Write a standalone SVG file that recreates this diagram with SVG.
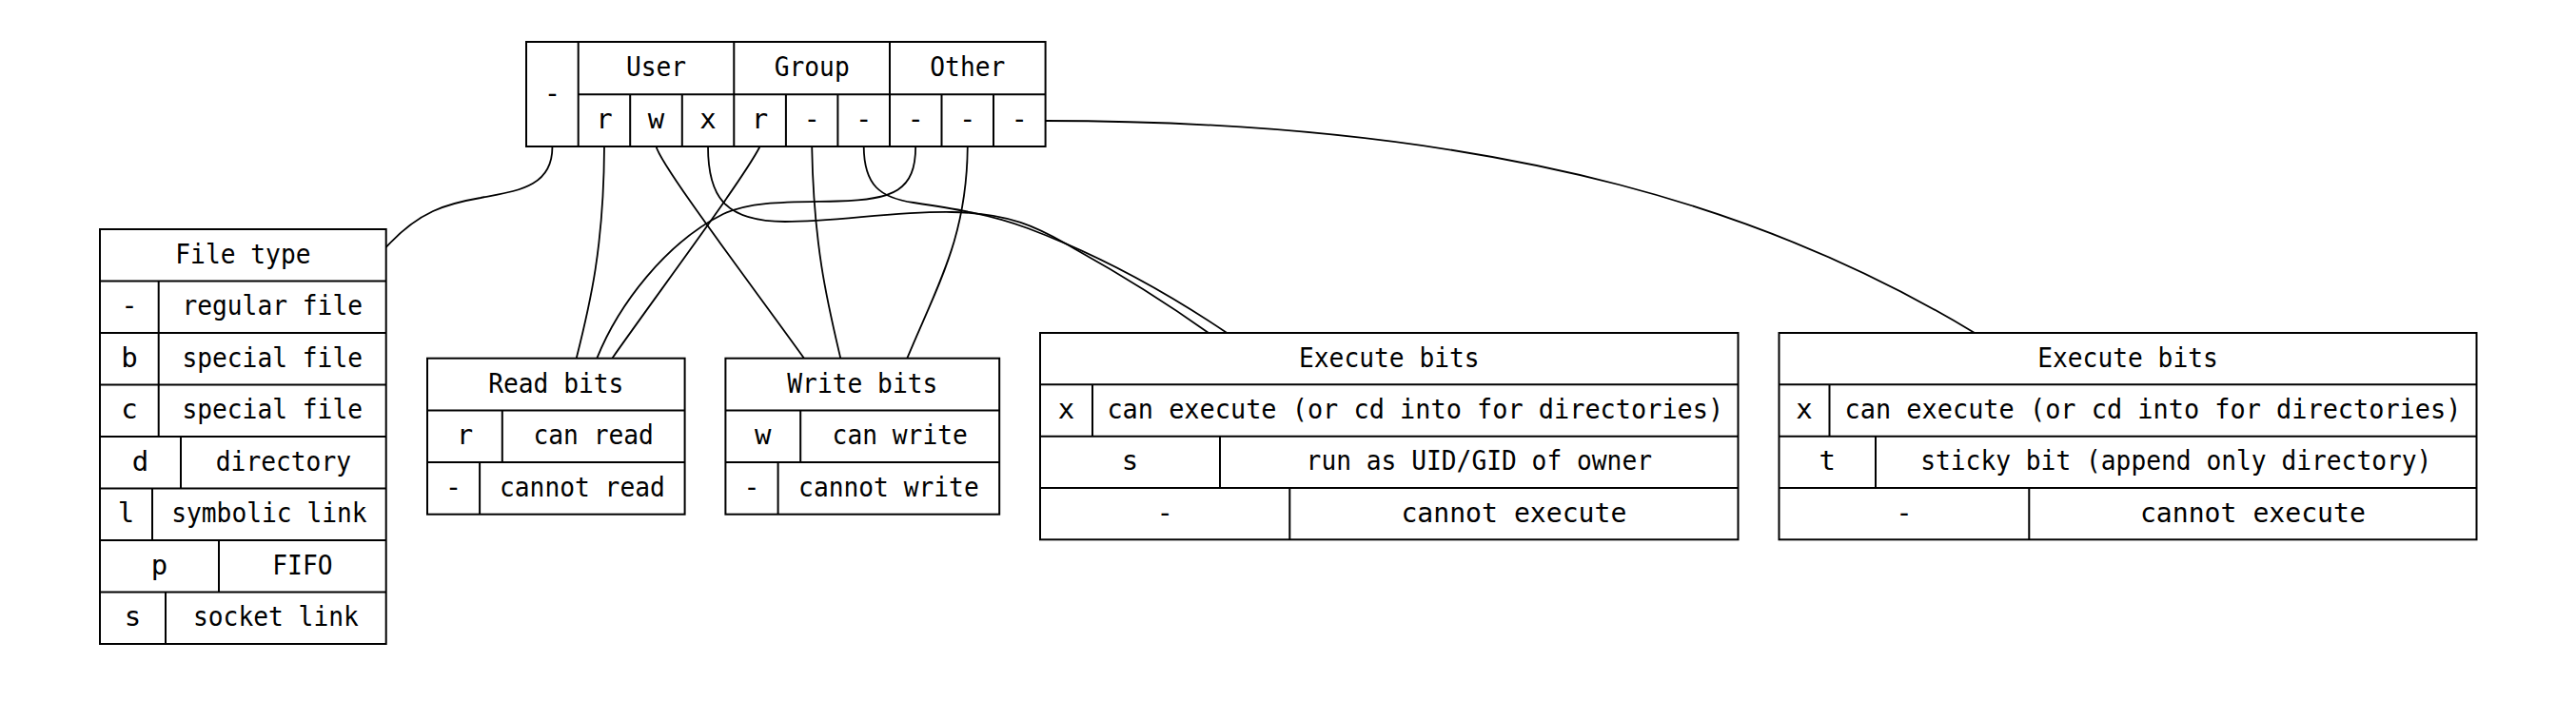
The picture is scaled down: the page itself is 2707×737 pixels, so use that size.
<svg xmlns="http://www.w3.org/2000/svg" width="2707" height="737" viewBox="0 0 2707 737">
<style>
.bg{fill:#ffffff}
.box{fill:#ffffff;stroke:#000000;stroke-width:2}
.ln{stroke:#000000;stroke-width:2;fill:none}
.t{font-family:"DejaVu Sans Mono","Liberation Mono",monospace;font-size:29px;fill:#000000;text-anchor:middle}
.edge{fill:none;stroke:#000000;stroke-width:1.8}
</style>
<rect class="bg" x="0" y="0" width="2707" height="737"/>

<g id="connectors">
<path class="edge" d="M580.4,154 C581,198 540,201 505,208 C470,214 440,222 405.7,260"/>
<path class="edge" d="M635,154 C634.5,260 620,320 605.7,376.7"/>
<path class="edge" d="M689.5,154 C695,175 790,300 845,376.7"/>
<path class="edge" d="M744,154 C744,205 760,233 825,233 C880,233 940,222 1000,223 C1060,224 1090,238 1130,262 C1175,287 1225,318 1270,350"/>
<path class="edge" d="M907.7,154 C908,195 925,208 960,213 C1000,219 1040,225 1080,240 C1160,270 1230,310 1289.3,350"/>
<path class="edge" d="M798.6,154 C780,190 690,310 643.3,376.7"/>
<path class="edge" d="M853.2,154 C855,260 870,320 883.3,376.7"/>
<path class="edge" d="M962.2,154 C962,200 940,210 880,211.5 C830,212.5 790,211 760,225 C700,255 650,320 627.3,376.7"/>
<path class="edge" d="M1016.8,154 C1016,250 985,300 953.3,376.7"/>
<path class="edge" d="M1098.6,127 C1600,127 1880,232 2075,350"/>
</g>

<g id="perms">
<rect class="box" x="553" y="44" width="545.6" height="110"/>
<path class="ln" d="M607.7,44 V154 M607.7,99.3 H1098.6 M771.3,44 V154 M935,44 V154 M662.2,99.3 V154 M716.8,99.3 V154 M825.9,99.3 V154 M880.4,99.3 V154 M989.5,99.3 V154 M1044,99.3 V154"/>
<text class="t" x="580.4" y="107.5">-</text>
<text class="t" x="689.5" y="80" textLength="63.2" lengthAdjust="spacingAndGlyphs">User</text>
<text class="t" x="853.2" y="80" textLength="79" lengthAdjust="spacingAndGlyphs">Group</text>
<text class="t" x="1016.8" y="80" textLength="79" lengthAdjust="spacingAndGlyphs">Other</text>
<text class="t" x="635" y="135">r</text>
<text class="t" x="689.5" y="135">w</text>
<text class="t" x="744" y="135">x</text>
<text class="t" x="798.6" y="135">r</text>
<text class="t" x="853.2" y="135">-</text>
<text class="t" x="907.7" y="135">-</text>
<text class="t" x="962.2" y="135">-</text>
<text class="t" x="1016.8" y="135">-</text>
<text class="t" x="1071.3" y="135">-</text>
</g>

<g id="filetype">
<rect class="box" x="105" y="241" width="300.7" height="436"/>
<path class="ln" d="M105,295.5 H405.7 M105,350 H405.7 M105,404.5 H405.7 M105,459 H405.7 M105,513.5 H405.7 M105,568 H405.7 M105,622.5 H405.7"/>
<path class="ln" d="M166.7,295.5 V459 M190,459 V513.5 M160,513.5 V568 M230,568 V622.5 M174,622.5 V677"/>
<text class="t" x="255.4" y="276.7" textLength="142.2" lengthAdjust="spacingAndGlyphs">File type</text>
<text class="t" x="135.9" y="331.2">-</text>
<text class="t" x="286.2" y="331.2" textLength="189.6" lengthAdjust="spacingAndGlyphs">regular file</text>
<text class="t" x="135.9" y="385.7">b</text>
<text class="t" x="286.2" y="385.7" textLength="189.6" lengthAdjust="spacingAndGlyphs">special file</text>
<text class="t" x="135.9" y="440.2">c</text>
<text class="t" x="286.2" y="440.2" textLength="189.6" lengthAdjust="spacingAndGlyphs">special file</text>
<text class="t" x="147.5" y="494.7">d</text>
<text class="t" x="297.9" y="494.7" textLength="142.2" lengthAdjust="spacingAndGlyphs">directory</text>
<text class="t" x="132.5" y="549.2">l</text>
<text class="t" x="282.9" y="549.2" textLength="205.4" lengthAdjust="spacingAndGlyphs">symbolic link</text>
<text class="t" x="167.5" y="603.7">p</text>
<text class="t" x="317.9" y="603.7" textLength="63.2" lengthAdjust="spacingAndGlyphs">FIFO</text>
<text class="t" x="139.5" y="658.2">s</text>
<text class="t" x="289.9" y="658.2" textLength="173.8" lengthAdjust="spacingAndGlyphs">socket link</text>
</g>

<g id="readbits">
<rect class="box" x="449" y="376.7" width="270.6" height="164"/>
<path class="ln" d="M449,431.4 H719.6 M449,486 H719.6 M527.8,431.4 V486 M504.1,486 V540.7"/>
<text class="t" x="584.3" y="412.5" textLength="142.2" lengthAdjust="spacingAndGlyphs">Read bits</text>
<text class="t" x="488.4" y="467.2">r</text>
<text class="t" x="623.7" y="467.2" textLength="126.4" lengthAdjust="spacingAndGlyphs">can read</text>
<text class="t" x="476.5" y="521.9">-</text>
<text class="t" x="611.9" y="521.9" textLength="173.8" lengthAdjust="spacingAndGlyphs">cannot read</text>
</g>

<g id="writebits">
<rect class="box" x="762.4" y="376.7" width="287.8" height="164"/>
<path class="ln" d="M762.4,431.4 H1050.2 M762.4,486 H1050.2 M841.2,431.4 V486 M817.6,486 V540.7"/>
<text class="t" x="906.3" y="412.5" textLength="158" lengthAdjust="spacingAndGlyphs">Write bits</text>
<text class="t" x="801.8" y="467.2">w</text>
<text class="t" x="945.7" y="467.2" textLength="142.2" lengthAdjust="spacingAndGlyphs">can write</text>
<text class="t" x="790" y="521.9">-</text>
<text class="t" x="933.9" y="521.9" textLength="189.6" lengthAdjust="spacingAndGlyphs">cannot write</text>
</g>

<g id="exec1">
<rect class="box" x="1093" y="350" width="733.5" height="217.3"/>
<path class="ln" d="M1093,404.3 H1826.5 M1093,458.7 H1826.5 M1093,513 H1826.5 M1148,404.3 V458.7 M1282,458.7 V513 M1355.3,513 V567.3"/>
<text class="t" x="1459.8" y="385.7" textLength="189.6" lengthAdjust="spacingAndGlyphs">Execute bits</text>
<text class="t" x="1120.5" y="440">x</text>
<text class="t" x="1487.3" y="440" textLength="647.8" lengthAdjust="spacingAndGlyphs">can execute (or cd into for directories)</text>
<text class="t" x="1187.5" y="494.4">s</text>
<text class="t" x="1554.3" y="494.4" textLength="363.4" lengthAdjust="spacingAndGlyphs">run as UID/GID of owner</text>
<text class="t" x="1224.2" y="548.7">-</text>
<text class="t" x="1590.9" y="548.7" textLength="237" lengthAdjust="spacingAndGlyphs">cannot execute</text>
</g>

<g id="exec2">
<rect class="box" x="1869.5" y="350" width="733" height="217.3"/>
<path class="ln" d="M1869.5,404.3 H2602.5 M1869.5,458.7 H2602.5 M1869.5,513 H2602.5 M1922.5,404.3 V458.7 M1971,458.7 V513 M2132.3,513 V567.3"/>
<text class="t" x="2236" y="385.7" textLength="189.6" lengthAdjust="spacingAndGlyphs">Execute bits</text>
<text class="t" x="1896" y="440">x</text>
<text class="t" x="2262.5" y="440" textLength="647.8" lengthAdjust="spacingAndGlyphs">can execute (or cd into for directories)</text>
<text class="t" x="1920.3" y="494.4">t</text>
<text class="t" x="2286.8" y="494.4" textLength="537.2" lengthAdjust="spacingAndGlyphs">sticky bit (append only directory)</text>
<text class="t" x="2000.9" y="548.7">-</text>
<text class="t" x="2367.4" y="548.7" textLength="237" lengthAdjust="spacingAndGlyphs">cannot execute</text>
</g>
</svg>
